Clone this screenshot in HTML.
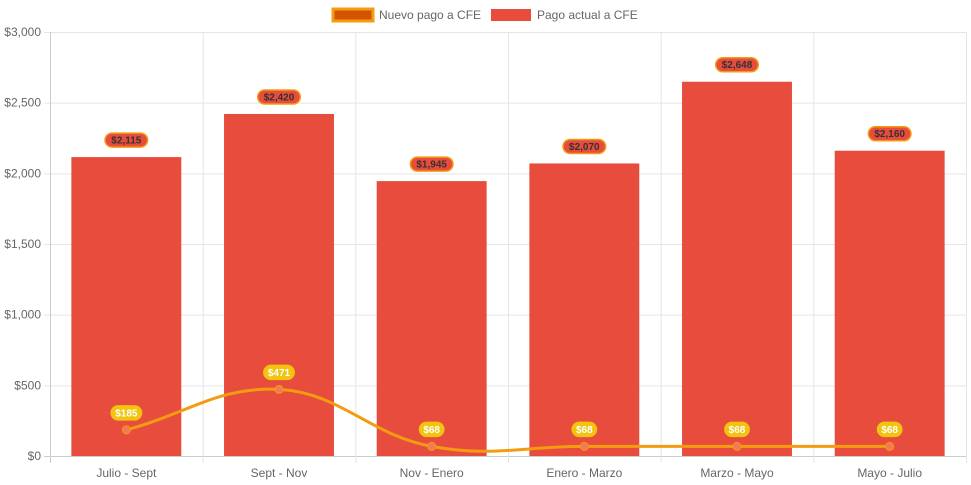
<!DOCTYPE html>
<html><head><meta charset="utf-8"><style>
body{margin:0;background:#fff;font-family:"Liberation Sans",Arial,sans-serif;}
svg{display:block}
</style></head><body>
<svg id="c" width="971" height="485" font-family="Liberation Sans, Arial, sans-serif"></svg>
<script>
const categories=["Julio - Sept","Sept - Nov","Nov - Enero","Enero - Marzo","Marzo - Mayo","Mayo - Julio"];
const actualValues=[2115,2420,1945,2070,2648,2160];
const newValues=[185,471,68,68,68,68];
const yTicks=[0,500,1000,1500,2000,2500,3000];
const yTickLabels=["$0","$500","$1,000","$1,500","$2,000","$2,500","$3,000"];

const svg=document.getElementById('c');
const NS='http://www.w3.org/2000/svg';
const L=50,R=966,T=32,B=456,YMAX=3000;
const cw=(R-L)/categories.length;
function xC(i){return L+cw*(i+0.5);}
function y(v){return B-(v/YMAX)*(B-T);}
function mk(tag,attrs,parent){const e=document.createElementNS(NS,tag);for(const k in attrs)e.setAttribute(k,attrs[k]);(parent||svg).appendChild(e);return e;}

// grid
const grid=mk('g',{});


yTicks.forEach((t,i)=>{
  mk('line',{x1:L-6,x2:R,y1:y(t)+0.5,y2:y(t)+0.5,stroke:i==0?'#ccc':'#e5e5e5','stroke-width':1},grid);
  const tx=mk('text',{x:L-9,y:y(t)+4,'text-anchor':'end','font-size':12,fill:'#666'});
  tx.textContent=yTickLabels[i];
  
  
});
for(let i=0;i<=categories.length;i++){
  const x=L+cw*i+0.5;
  mk('line',{x1:x,x2:x,y1:T,y2:B+7,stroke:i==0?'#ccc':'#e5e5e5','stroke-width':1},grid);
}
categories.forEach((c,i)=>{
  const tx=mk('text',{x:xC(i),y:B+21,'text-anchor':'middle','font-size':12,fill:'#666'});
  tx.textContent=c;
  
  
});

// bars
const bw=cw*0.72;
actualValues.forEach((v,i)=>{
  const r=mk('rect',{x:xC(i)-bw/2,y:y(v),width:bw,height:B-y(v),fill:'#e74c3c'});
  
  
});

// line (chart.js style spline tension 0.4)
const pts=newValues.map((v,i)=>({x:xC(i),y:y(v)}));
const t=0.4;
function cps(p0,p1,p2){
  const d01=Math.hypot(p1.x-p0.x,p1.y-p0.y),d12=Math.hypot(p2.x-p1.x,p2.y-p1.y);
  let fa=d01/(d01+d12)||0,fb=d12/(d01+d12)||0;fa*=t;fb*=t;
  return {p:{x:p1.x-fa*(p2.x-p0.x),y:p1.y-fa*(p2.y-p0.y)},n:{x:p1.x+fb*(p2.x-p0.x),y:p1.y+fb*(p2.y-p0.y)}};
}
const cp=pts.map((p,i)=>cps(pts[Math.max(0,i-1)],p,pts[Math.min(pts.length-1,i+1)]));
let d='M'+pts[0].x+','+pts[0].y;
for(let i=1;i<pts.length;i++){d+=` C${cp[i-1].n.x},${cp[i-1].n.y} ${cp[i].p.x},${cp[i].p.y} ${pts[i].x},${pts[i].y}`;}
const ln=mk('path',{d:d,fill:'none',stroke:'#f39c12','stroke-width':3});


pts.forEach((p,i)=>{
  const c=mk('circle',{cx:p.x,cy:p.y,r:4,fill:'#f07a5a',stroke:'#f39c12','stroke-width':1});
  
  
});

function fmt(v){return '$'+v.toLocaleString('en-US');}
function pill(cx,cy,txt,fill,stroke,color,name){
  const g=mk('g',{});
  
  
  const w=txt.length*6.1+6;
  mk('rect',{x:cx-w/2,y:cy-7,width:w,height:14,rx:7,fill:fill,stroke:stroke,'stroke-width':1.5},g);
  const tx=mk('text',{x:cx,y:cy+3.5,'text-anchor':'middle','font-size':10,'font-weight':'bold',fill:color},g);
  tx.textContent=txt;
}
actualValues.forEach((v,i)=>pill(xC(i),y(v)-17,fmt(v),'#e74c3c','#f39c12','#333','bar-value-label'));
newValues.forEach((v,i)=>pill(xC(i),y(v)-17,fmt(v),'#f1c40f','#f1c40f','#fff','line-value-label'));

// legend
const lg=mk('g',{});


const l1=mk('g',{},lg);


mk('rect',{x:333,y:9,width:40,height:12,fill:'#d35400',stroke:'#f39c12','stroke-width':3},l1);
const t1=mk('text',{x:379,y:19,'font-size':12,fill:'#666'},l1);t1.textContent='Nuevo pago a CFE';
const l2=mk('g',{},lg);


mk('rect',{x:491,y:9,width:40,height:12,fill:'#e74c3c'},l2);
const t2=mk('text',{x:537,y:19,'font-size':12,fill:'#666'},l2);t2.textContent='Pago actual a CFE';
</script>
</body></html>
